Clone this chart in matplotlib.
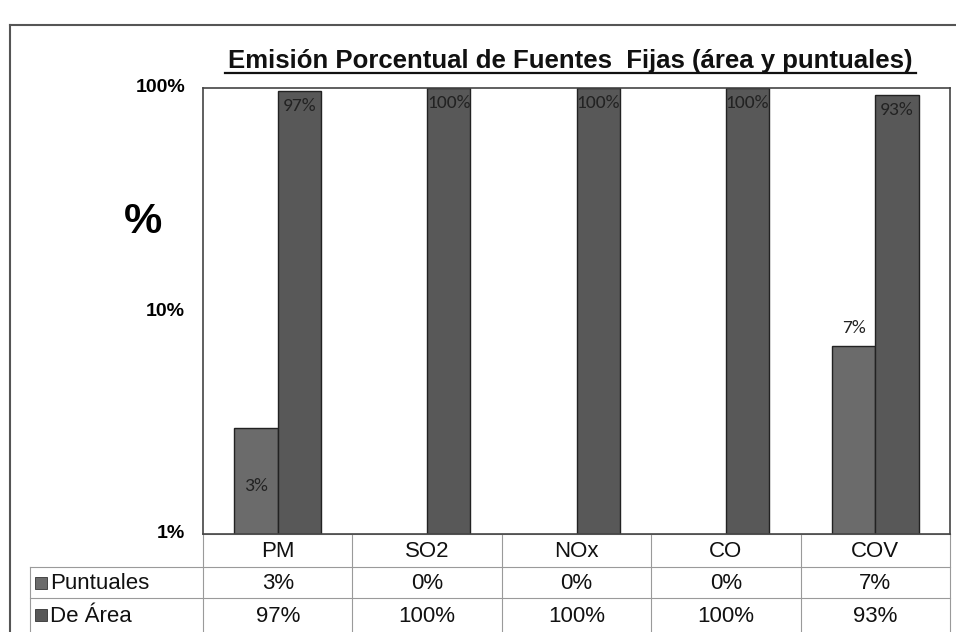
import matplotlib.pyplot as plt
import numpy as np
from matplotlib.lines import Line2D
from matplotlib.patches import Rectangle

plt.rcParams['font.family'] = ['Liberation Sans', 'DejaVu Sans']

categories = ["PM", "SO2", "NOx", "CO", "COV"]
puntuales = [3, 0, 0, 0, 7]
de_area = [97, 100, 100, 100, 93]
series_names = ["Puntuales", "De Área"]
title = "Emisión Porcentual de Fuentes  Fijas (área y puntuales)"

W, H = 956, 632
fig = plt.figure(figsize=(W / 100, H / 100), dpi=100)

# plot box in pixel terms
x0, x1, ytop, ybot = 203, 950, 88, 534
ax = fig.add_axes([x0 / W, 1 - ybot / H, (x1 - x0) / W, (ybot - ytop) / H])

c_punt = "#6b6b6b"
c_area = "#585858"
bw = 0.29
x = np.arange(len(categories))
p = np.array(puntuales, dtype=float)
a = np.array(de_area, dtype=float)
# zero shares cannot be drawn on a log axis
p_draw = np.where(p > 0, p, np.nan)
a_draw = np.where(a > 0, a, np.nan)
ax.bar(x - bw / 2, p_draw, bw, color=c_punt, edgecolor="#222222", linewidth=1)
ax.bar(x + bw / 2, a_draw, bw, color=c_area, edgecolor="#222222", linewidth=1)

ax.set_yscale("log")
ax.set_ylim(1, 100)
ax.set_xlim(-0.5, len(categories) - 0.5)
ax.set_xticks([])
ax.set_yticks([])
ax.minorticks_off()
for s in ax.spines.values():
    s.set_color("#444444")
    s.set_linewidth(1.2)

# data labels
lab_font = dict(fontsize=14, color="#222222", family=["Carlito", "Liberation Sans"])
for i, v in enumerate(p):
    if v <= 0:
        continue
    if v < 5:
        ax.text(x[i] - bw / 2, v * 0.55, f"{v:.0f}%", ha="center", va="center", **lab_font)
    else:
        ax.text(x[i] - bw / 2, v * 1.1, f"{v:.0f}%", ha="center", va="bottom", **lab_font)
for i, v in enumerate(a):
    ax.text(x[i] + bw / 2, v * 0.93, f"{v:.0f}%", ha="center", va="top", **lab_font)

# y tick labels drawn outside the plot box
for v in [1, 10, 100]:
    ax.text(-0.62, v, f"{v}%", ha="right", va="center", fontsize=14, fontweight="bold")
ax.text(-0.9, 25, "%", ha="center", va="center", fontsize=31, fontweight="bold")

# title
fig.text(570 / W, 1 - 61 / H, title, ha="center", va="center", fontsize=18.5,
         fontweight="bold", color="#111111")
fig.add_artist(Line2D([225 / W, 916 / W], [1 - 73 / H, 1 - 73 / H], color="#111111", lw=1.6))

# overlay axes in pixel coordinates for the table and frame
ov = fig.add_axes([0, 0, 1, 1], zorder=-1)
ov.set_xlim(0, W)
ov.set_ylim(H, 0)
ov.axis("off")

# outer frame
ov.plot([10, W], [25, 25], color="#555555", lw=1.5)
ov.plot([10, 10], [25, H], color="#555555", lw=1.5)

grid_c = "#9a9a9a"
col_w = (x1 - x0) / len(categories)
rows_y = [534, 567, 598, 632]
tab_left = 30
# horizontal lines
ov.plot([x0, x1], [rows_y[0], rows_y[0]], color=grid_c, lw=0.8)
for yy in rows_y[1:3]:
    ov.plot([tab_left, x1], [yy, yy], color=grid_c, lw=0.8)
# vertical lines
for k in range(len(categories) + 1):
    xx = x0 + k * col_w
    ov.plot([xx, xx], [rows_y[0], rows_y[-1]], color=grid_c, lw=0.8)
ov.plot([tab_left, tab_left], [rows_y[1], rows_y[-1]], color=grid_c, lw=0.8)

tfont = dict(fontsize=16, color="#111111", ha="center", va="center")
for k, cat in enumerate(categories):
    cx = x0 + (k + 0.5) * col_w
    ov.text(cx, (rows_y[0] + rows_y[1]) / 2 + 1, cat, **tfont)
    ov.text(cx, (rows_y[1] + rows_y[2]) / 2 + 1, f"{puntuales[k]}%", **tfont)
    ov.text(cx, (rows_y[2] + rows_y[3]) / 2 + 1, f"{de_area[k]}%", **tfont)

for r, (name, col) in enumerate(zip(series_names, [c_punt, c_area])):
    yc = (rows_y[r + 1] + rows_y[r + 2]) / 2
    ov.add_patch(Rectangle((35, yc - 6), 12, 12, facecolor=col, edgecolor="#333333", lw=0.6))
    ov.text(50, yc + 1, name, fontsize=16, color="#111111", ha="left", va="center")

fig.savefig("out.png", dpi=100)
